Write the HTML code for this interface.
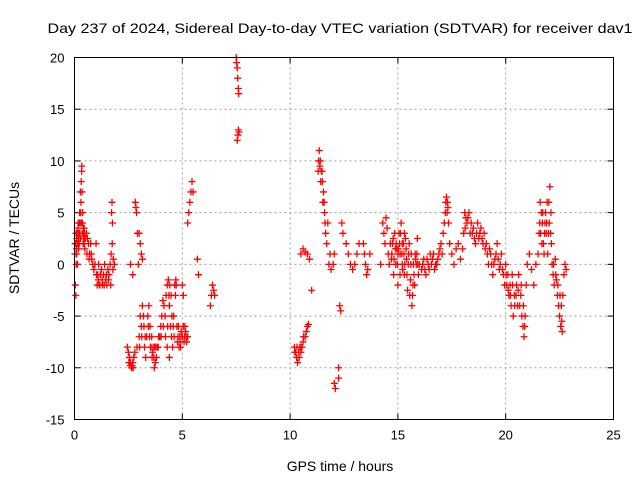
<!DOCTYPE html>
<html><head><meta charset="utf-8"><style>
body{margin:0;background:#fff;}
svg{display:block;font-family:"Liberation Sans",sans-serif;}
</style></head><body>
<svg id="chart" width="640" height="480" viewBox="0 0 640 480" xmlns="http://www.w3.org/2000/svg">
<rect width="640" height="480" fill="#fff"/>
<text x="340" y="33" font-size="14" text-anchor="middle" textLength="585" lengthAdjust="spacingAndGlyphs">Day 237 of 2024, Sidereal Day-to-day VTEC variation (SDTVAR) for receiver dav1</text>
<g id="grid"></g>
<g id="ticks"></g>
<g id="marks"></g>
<rect x="74.5" y="57.5" width="539" height="362" fill="none" stroke="#000" stroke-width="1"/>
<text x="340" y="471" font-size="14" text-anchor="middle">GPS time / hours</text>
<text transform="translate(19,238) rotate(-90)" font-size="14" text-anchor="middle">SDTVAR / TECUs</text>
</svg>
<script>
const xTicks = [0,5,10,15,20,25];
const yTicks = [20,15,10,5,0,-5,-10,-15];
const obs = [
[0.02,1],[0.04,-2],[0.05,2],[0.06,-3],[0.08,0],[0.1,2.5],[0.1,1],[0.12,3],[0.14,0],[0.15,2],[0.17,4],[0.19,1.5],[0.2,3],[0.22,2],[0.24,5],[0.25,3],[0.27,7],[0.28,2.5],[0.3,6],[0.31,8],[0.32,4],[0.33,9],[0.34,9.5],[0.35,7],[0.36,3],[0.38,5],[0.4,2],[0.42,3.5],[0.44,2],[0.46,3],[0.48,1.5],[0.5,2.5],
[0.03,2],[0.07,3],[0.09,1.5],[0.13,2],[0.16,3.5],[0.18,2.5],[0.21,4],[0.23,3],[0.26,4],[0.29,5],[0.37,4],[0.41,3],[0.43,2.5],[0.45,3.5],[0.47,2.5],
[0.55,3],[0.6,2.5],[0.65,2],[0.7,1],[0.75,2],[0.8,0.5],[0.85,0],[0.9,-0.5],[0.95,0],[1.0,2],
[0.58,1],[0.68,0.5],[0.78,1],[1.08,-1],[1.18,-2],[1.28,-1.5],[1.38,-2],[1.48,-1],[1.58,-1.5],[1.68,-2],[1.78,-0.5],
[1.02,-1],[1.05,-2],[1.1,-1.5],[1.12,0],[1.15,-2],[1.2,-1],[1.25,-0.5],[1.3,-2],[1.35,-1],[1.4,0],[1.45,-1.5],[1.5,-2],[1.55,-0.5],[1.6,-1],[1.65,0],[1.7,1],[1.75,2],[1.8,0.5],[1.85,0],
[1.72,5],[1.74,6],[1.76,4],
[2.45,-8],[2.5,-8.5],[2.55,-9],[2.6,-9.5],[2.65,-10],[2.7,-9.5],[2.75,-9],[2.8,-8.5],
[2.52,-9.5],[2.58,-9.8],[2.68,-9.8],[2.72,-10],
[2.82,6],[2.85,5.5],[2.88,5],[2.92,3],[2.96,0],[2.6,0],[2.7,-1],
[3.0,3],[3.05,2],[3.1,1],[3.15,0.5],
[2.9,-8],[3.0,-7],[3.05,-5],[3.1,-6],[3.15,-4],[3.2,-5],[3.25,-8],[3.3,-9],[3.35,-7],[3.4,-5],[3.45,-4],[3.5,-6],[3.55,-8],[3.6,-9],[3.65,-8],[3.7,-10],[3.75,-9.5],[3.8,-9],[3.85,-8],[3.9,-7],
[3.02,-8],[3.12,-7],[3.22,-6],[3.28,-7],[3.42,-6],[3.48,-7],[3.52,-8],[3.58,-7],[3.62,-8.5],[3.68,-9],[3.72,-8],[3.78,-8],[3.88,-8],[3.95,-7],
[4.0,-6],[4.05,-5],[4.1,-3.5],[4.15,-4],[4.2,-5],[4.25,-3],[4.3,-2],[4.35,-1.5],[4.4,-4],[4.45,-6],[4.5,-7],[4.55,-8],[4.6,-5],[4.65,-2],[4.7,-1.5],[4.3,-8],[4.4,-9],
[4.02,-7],[4.12,-6],[4.22,-7],[4.32,-6],[4.38,-3],[4.42,-2],[4.48,-3],[4.52,-5],[4.58,-6],[4.62,-7],[4.68,-3],[4.72,-2],[4.75,-6],[4.78,-7.5],[4.82,-6],[4.88,-7],[4.92,-8],[4.98,-7],[5.08,-7.5],[5.12,-6],[5.18,-7],
[4.8,-7],[4.85,-8],[4.9,-7.5],[4.95,-6.5],[5.0,-7],[5.05,-6],[5.1,-7],[5.15,-6.5],[5.2,-7.5],[5.25,-7],[5.0,-2],[5.05,-3],
[5.25,4],[5.3,5],[5.35,6],[5.4,7],[5.45,8],[5.5,7],
[5.7,0.5],[5.75,-1],
[6.3,-4],[6.35,-3],[6.4,-2],[6.45,-2.5],[6.5,-3],
[7.5,20],[7.52,19.5],[7.55,19],[7.57,18],[7.6,17],[7.62,16.5],[7.55,12],[7.58,12.5],[7.6,13],[7.63,12.8],
[10.2,-8],[10.25,-8.5],[10.3,-9],[10.35,-9.5],[10.4,-8.5],[10.45,-8],[10.5,-8.5],[10.55,-8],[10.6,-7.5],[10.7,-7],[10.75,-6.5],[10.8,-6],[10.85,-5.8],
[10.22,-8.5],[10.32,-8],[10.42,-9],[10.52,-8],[10.62,-7],
[10.5,1],[10.6,1.5],[10.7,1.2],[10.8,1],[10.9,0.5],[11.0,-2.5],
[11.3,9],[11.35,11],[11.4,10],[11.45,9],[11.5,8],[11.55,7],[11.6,5],[11.65,3],[11.7,2],[11.75,4],[11.8,0],[11.85,1],[11.9,-0.5],[12.0,0],[12.05,1],
[11.32,10],[11.38,9.5],[11.42,8],[11.48,9],[11.52,6],[11.58,6],[11.62,4],
[12.05,-11.5],[12.1,-12],[12.25,-10],[12.25,-11],
[12.3,-4],[12.35,-4.5],[12.4,4],[12.45,3],
[12.6,2],[12.7,1],[12.8,0],[12.9,-0.5],[13.0,0],[13.1,1],[13.2,2],
[13.4,2],[13.45,1],[13.5,0],[13.55,-1],[13.6,-0.5],[13.7,1],
[14.2,0],[14.3,4],[14.35,3],[14.4,2],[14.45,4.5],[14.5,3.5],[14.55,1],[14.6,0],[14.65,2],[14.7,0.5],
[14.75,2],[14.8,-1],[14.85,3],[14.9,0],[14.95,1.5],[15.0,-2],[15.05,3],[15.1,1],[15.15,4],[15.2,0],[15.25,2],[15.3,-1],[15.35,2.5],[15.4,0.5],[15.45,-2.5],[15.5,1],[15.55,-3],[15.6,0],[15.65,-4],[15.7,-2],[15.75,-1],[15.8,1],[15.85,0],[15.9,2.5],[15.95,-1],[16.0,0],[15.0,1],[15.1,-1],[15.2,2],[15.3,3],
[14.72,1],[14.78,2.5],[14.82,0.5],[14.88,1.5],[14.92,2],[14.98,0],[15.02,1.5],[15.08,2],[15.12,3],[15.18,1],[15.22,-0.5],[15.28,1],[15.32,0],[15.38,1.5],[15.42,-1],[15.48,0],[15.52,2],[15.58,-1.5],[15.62,1],[15.68,-3],[15.72,0],[15.78,-2],[15.82,0.5],[15.88,1],[15.92,0],
[16.1,-0.5],[16.2,0.5],[16.3,-1],[16.4,0],[16.5,1],[16.6,0.5],[16.7,-0.5],[16.8,0],[16.9,1],[17.0,2],[17.05,1],
[16.15,0],[16.25,-0.5],[16.35,0.5],[16.45,-0.5],[16.55,0],[16.65,1],[16.75,0],[16.85,0.5],[16.95,1.5],
[17.1,3],[17.2,5],[17.25,6.5],[17.3,6],[17.35,4],[17.4,2],[17.5,1],[17.6,0],[17.7,1.5],[17.8,2],[17.9,0.5],[18.0,1.5],
[17.15,4],[17.22,6],[17.28,5],[17.32,5.5],
[18.1,5],[18.15,4.5],[18.2,4],[18.3,5],[18.35,3],[18.4,4],[18.5,3.5],[18.6,2],[18.7,4],[18.8,3],[18.9,2.5],[19.0,3],
[18.05,3],[18.12,3.5],[18.25,4.5],[18.45,3],[18.55,2.5],[18.65,3],[18.75,2.5],[18.85,3.5],[18.95,2],
[19.1,2],[19.2,0],[19.3,1],[19.4,-1],[19.5,0.5],[19.6,2],[19.7,-0.5],[19.8,1],[19.9,-1],[20.0,0],
[19.05,1.5],[19.15,1],[19.25,1.5],[19.35,0],[19.45,0],[19.55,1],[19.65,0.5],[19.75,0],[19.85,-0.5],[19.95,-2],
[20.05,-2],[20.1,-1],[20.15,-3],[20.2,-2],[20.25,-4],[20.3,-1],[20.35,-5],[20.4,-3],[20.5,-2],[20.55,-4],[20.6,-1],[20.7,-3],[20.75,-5],[20.8,-6],[20.85,-7],[20.9,-5],[20.95,-2],
[20.02,-1],[20.12,-2.5],[20.22,-3],[20.32,-2],[20.42,-4],[20.48,-3],[20.58,-2.5],[20.65,-4],[20.72,-2],[20.82,-4],[20.88,-6],
[21.0,0],[21.1,1],[21.2,-0.5],[21.3,-2],[21.4,0],[21.5,1],
[21.55,3],[21.6,6],[21.65,5],[21.7,4],[21.75,2],[21.8,3],[21.85,5],[21.9,4],[21.95,1],[22.0,6],[22.05,7.5],[22.1,5],
[21.58,4],[21.62,3],[21.68,2],[21.72,5],[21.78,1],[21.82,4],[21.88,3],[21.92,6],[21.98,3],[22.02,4],[22.08,3],[22.12,2],
[22.15,0],[22.2,-1],[22.25,-2],[22.3,0.5],[22.35,-1.5],[22.4,-3],
[22.22,0],[22.32,-1],[22.42,-2],[22.52,-3],[22.58,-4],[22.62,-6.5],
[22.45,-4],[22.5,-5],[22.55,-6],[22.6,-5.5],[22.65,-3],[22.7,-1],[22.75,0],[22.8,-0.5]
];
const NS='http://www.w3.org/2000/svg';
const L=74.5,R=613.5,T=57.5,B=419.5;
function xs(t){return L+(t-0)/(25-0)*(R-L);}
function ys(v){return B-(v-(-15))/(20-(-15))*(B-T);}
function mk(tag,a,p){const e=document.createElementNS(NS,tag);for(const k in a)e.setAttribute(k,a[k]);p.appendChild(e);return e;}
const grid=document.getElementById('grid'),ticks=document.getElementById('ticks'),marks=document.getElementById('marks');
xTicks.forEach(t=>{const x=xs(t);
 if(t>0&&t<25){const g=mk('line',{x1:x,y1:T,x2:x,y2:B,stroke:'#a0a0a0','stroke-dasharray':'2,3'},grid);
 
 }
 mk('line',{x1:x,y1:B,x2:x,y2:B-6,stroke:'#000'},grid);mk('line',{x1:x,y1:T,x2:x,y2:T+6,stroke:'#000'},grid);
 const tx=mk('text',{x:x,y:B+20,'font-size':13,'text-anchor':'middle'},ticks);tx.textContent=t;
 
 });
yTicks.forEach(v=>{const y=ys(v);
 if(v>-15&&v<20){const g=mk('line',{x1:L,y1:y,x2:R,y2:y,stroke:'#a0a0a0','stroke-dasharray':'2,3'},grid);
 
 }
 mk('line',{x1:L,y1:y,x2:L+6,y2:y,stroke:'#000'},grid);mk('line',{x1:R,y1:y,x2:R-6,y2:y,stroke:'#000'},grid);
 const tx=mk('text',{x:L-10,y:y+5,'font-size':13,'text-anchor':'end'},ticks);tx.textContent=v;
 
 });
obs.forEach(p=>{const x=xs(p[0]),y=ys(p[1]);
 const m=mk('path',{d:`M${x-3.5},${y}H${x+3.5}M${x},${y-3.5}V${y+3.5}`,stroke:'#ff0000','stroke-width':1.3,fill:'none'},marks);
 
 });
</script>
</body></html>
